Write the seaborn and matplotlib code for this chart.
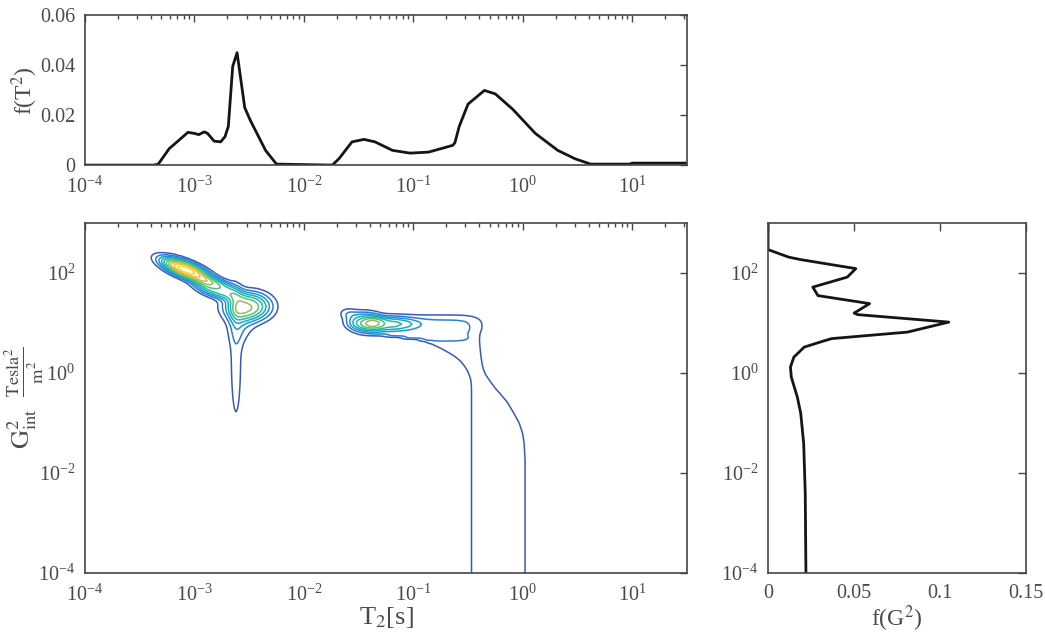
import numpy as np
import matplotlib
matplotlib.use("Agg")
import matplotlib.pyplot as plt
from matplotlib.colors import LinearSegmentedColormap, Normalize
from matplotlib.ticker import FixedLocator, NullLocator, LogLocator, NullFormatter, FixedFormatter
import seaborn as sns

# ---------------- data ----------------
# 1D T2 distribution: log10(T2 [s]) and f(T2)
t2_log = [-4.0, -3.37, -3.33, -3.23, -3.14, -3.06, -3.0, -2.96, -2.91, -2.88, -2.82, -2.76,
          -2.72, -2.69, -2.65, -2.61, -2.54, -2.49, -2.35, -2.25, -1.74, -1.68, -1.56, -1.45,
          -1.35, -1.19, -1.03, -0.86, -0.64, -0.62, -0.58, -0.50, -0.35, -0.25, -0.09, 0.115,
          0.32, 0.48, 0.62, 0.98, 1.0, 1.5]
t2_f = [0.0, 0.0, 0.0004, 0.0066, 0.0100, 0.0131, 0.0127, 0.0122, 0.0133, 0.0127, 0.0096, 0.0093,
        0.0114, 0.0155, 0.0395, 0.0450, 0.0230, 0.0180, 0.0059, 0.0004, 0.0, 0.0025, 0.0093, 0.0103,
        0.0093, 0.0059, 0.0048, 0.0052, 0.0079, 0.0089, 0.0155, 0.0244, 0.0299, 0.0285, 0.0223, 0.0127,
        0.0059, 0.0025, 0.0004, 0.0004, 0.0008, 0.0008]

# 1D G^2 distribution: log10(G^2) and f(G^2)
g_log = [3.0, 2.47, 2.32, 2.27, 2.09, 1.92, 1.72, 1.55, 1.39, 1.20, 1.17, 1.02, 0.82, 0.69,
         0.65, 0.52, 0.32, 0.12, -0.08, -0.48, -0.81, -1.41, -2.41, -4.0]
g_f = [0.0, 0.0, 0.012, 0.019, 0.051, 0.046, 0.026, 0.029, 0.059, 0.050, 0.052, 0.105, 0.081, 0.037,
       0.033, 0.021, 0.015, 0.013, 0.0135, 0.017, 0.019, 0.0207, 0.0216, 0.022]

# 2D T2-G2 map, described by peaks: centre (log10 T2, log10 G2), widths, angle,
# shape exponents along each axis and height in contour units
peak_logT2 = [-3.08, -2.80, -2.51, -2.58, -2.62, -1.45, -1.25, -1.60, -0.90]
peak_logG = [2.07, 1.70, 1.33, 0.95, 0.30, 1.02, 0.99, 1.20, 0.95]
peak_sig1 = [0.23, 0.20, 0.16, 0.09, 0.045, 0.13, 0.22, 0.06, 0.48]
peak_sig2 = [0.095, 0.12, 0.22, 0.25, 1.15, 0.17, 0.11, 0.08, 0.17]
peak_angle = [-48, -48, 0, 0, 0, 0, 0, 0, 0]
peak_shape1 = [2.5, 3.0, 2.5, 2.0, 2.0, 3.0, 3.0, 2.0, 6.0]
peak_shape2 = [2.5, 3.0, 2.5, 2.0, 2.0, 3.0, 3.0, 2.0, 2.5]
peak_height = [10.6, 5.5, 6.8, 1.6, 1.55, 3.9, 3.0, 1.5, 2.4]

# long-T2 band reaching low gradients: edges (log10 T2) at given log10 G2
band_logG = [-4.5, -1.74, -1.4, -1.2, -1.0, -0.8, -0.58, -0.45, -0.3, -0.15, -0.04, 0.06,
             0.16, 0.26, 0.36, 0.46, 0.56, 0.65, 0.8, 1.0]
band_left = [-0.47, -0.47, -0.47, -0.47, -0.47, -0.47, -0.47, -0.47, -0.47, -0.475, -0.49, -0.51,
             -0.54, -0.58, -0.64, -0.72, -0.81, -0.92, -1.40, -1.40]
band_right = [0.023, 0.023, 0.015, 0.0, -0.03, -0.08, -0.14, -0.19, -0.25, -0.30, -0.335, -0.355,
              -0.367, -0.375, -0.381, -0.386, -0.39, -0.395, -0.40, -0.40]
band_height = 1.9
band_top = 0.76

contour_levels = [1, 2, 3, 4, 5, 6, 7, 8, 9, 10]

# ---------------- style ----------------
sns.set_style("white")
plt.rcParams["font.family"] = ["Liberation Serif", "DejaVu Serif"]
plt.rcParams["mathtext.fontset"] = "stix"
plt.rcParams["axes.unicode_minus"] = True

axis_col = "#454545"
text_col = "#4a4a4a"
line_col = "#151515"

parula = LinearSegmentedColormap.from_list("parula", [
    (0.0, (0.21, 0.17, 0.53)),
    (0.1, (0.22, 0.36, 0.76)),
    (0.2, (0.16, 0.50, 0.86)),
    (0.3, (0.08, 0.62, 0.84)),
    (0.4, (0.05, 0.70, 0.74)),
    (0.5, (0.18, 0.75, 0.60)),
    (0.6, (0.42, 0.76, 0.42)),
    (0.7, (0.66, 0.75, 0.30)),
    (0.8, (0.90, 0.73, 0.24)),
    (0.9, (0.98, 0.78, 0.18)),
    (1.0, (0.98, 0.95, 0.10)),
])

fig = plt.figure(figsize=(10.45, 6.35), dpi=100)
ax_top = fig.add_axes([0.0813, 0.740, 0.576, 0.236])
ax_main = fig.add_axes([0.0813, 0.0976, 0.576, 0.551])
ax_right = fig.add_axes([0.735, 0.0976, 0.247, 0.551])

xlim = (1e-4, 10 ** 1.5)
ylim = (1e-4, 1e3)

# ---------------- 2D map ----------------
xs = np.linspace(-4, 1.5, 420)
ys = np.linspace(-4.3, 3, 160)
X, Y = np.meshgrid(xs, ys)
Z = np.zeros_like(X)
for x0, y0, s1, s2, th, b1, b2, h in zip(peak_logT2, peak_logG, peak_sig1, peak_sig2,
                                         peak_angle, peak_shape1, peak_shape2, peak_height):
    t = np.deg2rad(th)
    dx, dy = X - x0, Y - y0
    u = np.abs(dx * np.cos(t) + dy * np.sin(t)) / s1
    v = np.abs(-dx * np.sin(t) + dy * np.cos(t)) / s2
    if b1 == b2:
        Z += h * np.exp(-0.5 * (u * u + v * v) ** (b1 / 2))
    else:
        Z += h * np.exp(-0.5 * (u ** b1 + v ** b2))
L = np.interp(Y, band_logG, band_left)
R = np.interp(Y, band_logG, band_right)
w = 0.018
Z += band_height / (1 + np.exp(-(X - L) / w)) / (1 + np.exp(-(R - X) / w)) / (1 + np.exp((Y - band_top) / 0.05))

ax_main.contour(10 ** X, 10 ** Y, Z, levels=contour_levels, cmap=parula,
                norm=Normalize(0, 10.6), linewidths=1.1)
ax_main.set_xscale("log")
ax_main.set_yscale("log")
ax_main.set_xlim(*xlim)
ax_main.set_ylim(*ylim)

# ---------------- top: f(T2) ----------------
sns.lineplot(x=10 ** np.array(t2_log), y=t2_f, ax=ax_top, color=line_col, linewidth=2.0, sort=False)
ax_top.set_xscale("log")
ax_top.set_xlim(*xlim)
ax_top.set_ylim(0, 0.06)
ax_top.yaxis.set_major_locator(FixedLocator([0, 0.02, 0.04, 0.06]))
ax_top.yaxis.set_major_formatter(FixedFormatter(["0", "0.02", "0.04", "0.06"]))

# ---------------- right: f(G2) ----------------
sns.lineplot(x=g_f, y=10 ** np.array(g_log), ax=ax_right, color=line_col, linewidth=2.0,
             orient="y", sort=False)
ax_right.set_yscale("log")
ax_right.set_ylim(*ylim)
ax_right.set_xlim(0, 0.15)
ax_right.xaxis.set_major_locator(FixedLocator([0, 0.05, 0.1, 0.15]))
ax_right.xaxis.set_major_formatter(FixedFormatter(["0", "0.05", "0.1", "0.15"]))

# ---------------- axes styling ----------------
for ax in (ax_top, ax_main):
    ax.xaxis.set_major_locator(FixedLocator([1e-4, 1e-3, 1e-2, 1e-1, 1e0, 1e1]))
    ax.xaxis.set_minor_locator(LogLocator(base=10, subs=np.arange(2, 10)))
    ax.xaxis.set_minor_formatter(NullFormatter())
for ax in (ax_main, ax_right):
    ax.yaxis.set_major_locator(FixedLocator([1e-4, 1e-2, 1e0, 1e2]))
    ax.yaxis.set_minor_locator(NullLocator())

for ax in (ax_top, ax_main, ax_right):
    for sp in ax.spines.values():
        sp.set_color(axis_col)
        sp.set_linewidth(1.2)
        sp.set_visible(True)
    ax.tick_params(which="both", direction="in", top=True, right=True,
                   color=axis_col, labelcolor=text_col, labelsize=14.5, width=1.0)
    ax.tick_params(axis="x", which="both", pad=8)
    ax.tick_params(axis="y", which="both", pad=7)
    ax.tick_params(which="major", length=5)
    ax.tick_params(which="minor", length=3)
    ax.set_facecolor("white")
    ax.grid(False)
ax_right.tick_params(which="major", length=6)

ax_top.set_ylabel(r"f(T$^2$)", fontsize=17, color=text_col)
ax_top.yaxis.set_label_coords(-0.075, 0.5)
ax_main.set_xlabel(r"T$_2$[s]", fontsize=19, color=text_col, labelpad=0)
ax_main.set_ylabel(r"$\mathrm{G^2_{int}}\ \ \frac{\mathrm{Tesla^2}}{\mathrm{m^2}}$",
                   fontsize=19, color=text_col)
ax_main.yaxis.set_label_coords(-0.065, 0.5)
ax_right.set_xlabel(r"f(G$^2$)", fontsize=17, color=text_col, labelpad=0)

fig.savefig("out.png", dpi=100, facecolor="white")
